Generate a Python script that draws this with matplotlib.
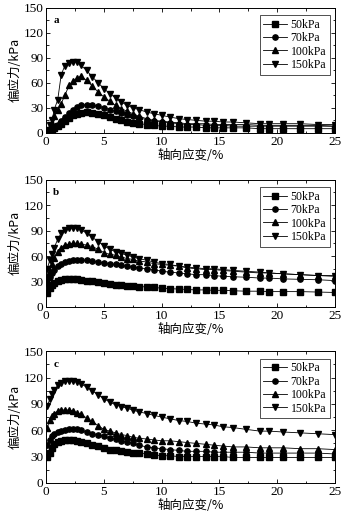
"""
三轴试验偏应力-轴向应变曲线 (a, b, c 三组), 围压 50/70/100/150 kPa.
"""
import matplotlib.pyplot as plt
from matplotlib.ticker import MultipleLocator

SERIF = ['Liberation Serif', 'DejaVu Serif']
CJK = ['Noto Sans CJK SC', 'DejaVu Sans']

LABELS = ['50kPa', '70kPa', '100kPa', '150kPa']
MARKERS = ['s', 'o', '^', 'v']

# 轴向应变 (%)
STRAIN = [0.1, 0.3, 0.5, 0.7, 1.0, 1.3, 1.6, 2.0, 2.3, 2.7, 3.0, 3.5, 4.0,
          4.5, 5.0, 5.5, 6.0, 6.5, 7.0, 7.5, 8.0, 8.7, 9.3, 10.0, 10.7,
          11.5, 12.2, 13.0, 13.8, 14.5, 15.3, 16.2, 17.3, 18.5, 19.3, 20.5,
          22.0, 23.5, 25.0]

# 偏应力 (kPa) - 图 a
A_50 = [1, 2, 4, 6, 8, 11, 14, 18, 21, 23, 24, 25, 24, 23, 21, 19, 17, 15,
        13, 12, 11, 10, 9, 8, 8, 7, 7, 7, 6, 6, 6, 6, 6, 5, 5, 5, 5, 5, 5]
A_70 = [1, 3, 5, 7, 10, 14, 19, 24, 28, 31, 33, 34, 33, 32, 30, 28, 26, 24,
        22, 20, 18, 16, 14, 13, 12, 11, 10, 10, 9, 9, 9, 8, 8, 8, 8, 8, 8, 8, 8]
A_100 = [2, 6, 12, 20, 28, 35, 45, 57, 62, 66, 68, 63, 56, 49, 43, 38, 33,
         29, 26, 23, 20, 17, 15, 14, 13, 12, 11, 11, 11, 10, 10, 10, 10, 9,
         9, 9, 9, 9, 8]
A_150 = [3, 9, 15, 28, 40, 70, 80, 84, 85, 85, 81, 75, 67, 60, 53, 47, 42,
         37, 33, 30, 28, 25, 23, 21, 19, 17, 16, 15, 14, 14, 13, 13, 12, 11,
         11, 11, 11, 10, 10]

# 图 b
B_50 = [16, 22, 26, 28, 30, 32, 33, 33, 33, 33, 32, 31, 30, 29, 28, 27, 26,
        25.5, 25, 24.5, 24, 23.5, 23, 22, 21.5, 21, 20.5, 20, 20, 19.5, 19.5,
        19, 18.5, 18.5, 18, 18, 18, 17.5, 17]
B_70 = [28, 35, 40, 44, 48, 51, 53, 54, 55, 55, 55, 55, 54, 53, 52, 51, 50,
        49, 48, 47, 46, 45, 44, 42, 41, 40, 39, 38, 38, 37, 36, 35.5, 35, 34,
        34, 33, 32.5, 32, 31]
B_100 = [35, 42, 50, 58, 65, 70, 73, 74, 75, 75, 74, 73, 71, 68, 64, 62, 61,
         59, 57, 56, 54, 53, 51, 50, 49, 48, 46, 45, 44, 44, 43, 42, 41, 40,
         40, 39, 38, 37, 36]
B_150 = [45, 55, 62, 70, 80, 87, 91, 93, 93, 93, 91, 87, 82, 77, 72, 68, 65,
         63, 61, 59, 57, 55, 53, 51, 50, 48, 47, 46, 45, 45, 44, 43, 42, 41,
         40, 39, 38, 37, 37]

# 图 c
C_50 = [30, 34, 40, 44, 47, 48, 49, 49, 49, 48, 47, 45, 43, 42, 40, 38, 37,
        36, 35, 34, 34, 33, 32, 31, 31, 30, 30, 30, 30, 30, 30, 29, 29, 29,
        29, 29, 29, 29, 29]
C_70 = [43, 49, 53, 56, 58, 59, 60, 61, 61, 61, 60, 58, 56, 55, 53, 51, 50,
        48, 47, 45, 43, 41, 40, 39, 38, 37, 36, 36, 36, 35, 35, 35, 35, 34,
        34, 34, 34, 34, 33]
C_100 = [63, 72, 76, 79, 82, 83, 83, 83, 82, 80, 78, 74, 70, 65, 61, 59, 57,
         55, 54, 52, 51, 50, 49, 48, 48, 47, 46, 45, 44, 43, 42, 41, 41, 40,
         40, 40, 39, 39, 38]
C_150 = [88, 95, 101, 106, 111, 114, 116, 116, 116, 115, 113, 109, 105, 100,
         96, 92, 89, 87, 85, 83, 81, 79, 77, 75, 73, 71, 70, 68, 67, 66, 64,
         63, 61, 59, 59, 58, 57, 56, 55]

PANELS = [('a', [A_50, A_70, A_100, A_150]),
          ('b', [B_50, B_70, B_100, B_150]),
          ('c', [C_50, C_70, C_100, C_150])]

# 各子图位置 (figure fraction)
BOXES = [(0.128, 0.745, 0.800, 0.240),
         (0.128, 0.411, 0.800, 0.244),
         (0.128, 0.073, 0.800, 0.253)]

fig = plt.figure(figsize=(3.61, 5.21), dpi=100)
fig.patch.set_facecolor('white')

for (tag, series), box in zip(PANELS, BOXES):
    ax = fig.add_axes(box)
    for ys, lab, mk in zip(series, LABELS, MARKERS):
        ax.plot(STRAIN, ys, color='black', lw=0.6, marker=mk, ms=3.8,
                mfc='black', mec='black', label=lab)
    ax.set_xlim(0, 25)
    ax.set_ylim(0, 150)
    ax.xaxis.set_major_locator(MultipleLocator(5))
    ax.xaxis.set_minor_locator(MultipleLocator(2.5))
    ax.yaxis.set_major_locator(MultipleLocator(30))
    ax.yaxis.set_minor_locator(MultipleLocator(15))
    ax.tick_params(which='both', direction='in', top=True, right=True,
                   labelsize=9.5, pad=2, width=0.6)
    ax.tick_params(which='major', length=3)
    ax.tick_params(which='minor', length=1.8)
    for lbl in ax.get_xticklabels() + ax.get_yticklabels():
        lbl.set_family(SERIF)
    for sp in ax.spines.values():
        sp.set_linewidth(0.7)

    ax.text(0.6, 140, tag, family=SERIF, fontsize=8, fontweight='bold',
            va='top', ha='left')
    ax.set_xlabel('轴向应变/%', family=CJK, fontsize=9, labelpad=1)
    ax.set_ylabel('偏应力/kPa', family=CJK, fontsize=9, labelpad=1)

    leg = ax.legend(loc='upper right', bbox_to_anchor=(0.99, 0.96),
                    prop={'family': SERIF, 'size': 8.5}, frameon=True,
                    fancybox=False, edgecolor='black', handlelength=2.0,
                    handletextpad=0.3, borderpad=0.3, labelspacing=0.12,
                    borderaxespad=0.2)
    leg.get_frame().set_linewidth(0.6)

plt.savefig('out.png', dpi=100, facecolor='white')
plt.close()
